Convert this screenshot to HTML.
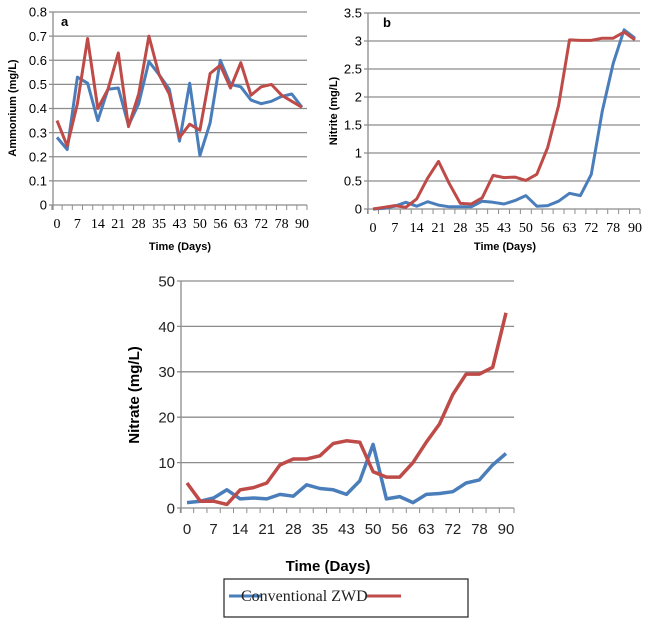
<!DOCTYPE html>
<html><head><meta charset="utf-8"><style>
body{margin:0;background:#fff}
svg{display:block}
</style></head><body>
<svg id="s" width="650" height="624" xmlns="http://www.w3.org/2000/svg" font-family="Liberation Sans, sans-serif"></svg>
<script>
const s=document.getElementById('s');let h='';
const labs=[0,7,14,21,28,35,43,50,56,63,72,78,90];
function chart(o){
 const {L,R,T,B,max,step,x0,x1,fs,red,blue,tick,dec}=o;
 const n=Math.round(max/step);
 for(let i=0;i<=n;i++){const y=B-(B-T)*i/n;
  h+=`<line x1="${L-4}" y1="${y}" x2="${R}" y2="${y}" stroke="#8c8c8c" stroke-width="1.3"/>`;
  let v=(i*step);v=dec?(+v.toFixed(dec)).toString():v;
  h+=`<text x="${L-6}" y="${y+fs*0.36}" font-size="${fs}" text-anchor="end" fill="${o.tc||'#000'}">${v}</text>`;}
 h+=`<line x1="${L}" y1="${T}" x2="${L}" y2="${B+5}" stroke="#8c8c8c" stroke-width="1.3"/>`;
 const st=(x1-x0)/24;
 for(let i=0;i<=24;i++){const x=x0+st*(i-0.5);h+=`<line x1="${x}" y1="${B}" x2="${x}" y2="${B+5}" stroke="#8c8c8c"/>`}
 h+=`<line x1="${R}" y1="${B}" x2="${R}" y2="${B+5}" stroke="#8c8c8c"/>`;
 const ff=o.serif?'font-family="Liberation Serif, serif"':'';
 labs.forEach((l,i)=>{const x=x0+st*2*i;h+=`<text x="${x}" y="${B+tick}" font-size="${o.xfs||fs}" text-anchor="middle" ${ff} fill="${o.tc||'#000'}">${l}</text>`});
 const pts=a=>a.map((v,i)=>`${(x0+st*i).toFixed(1)},${(B-(B-T)*v/max).toFixed(1)}`).join(' ');
 h+=`<polyline points="${pts(blue)}" fill="none" stroke="#4a7ebb" stroke-width="${o.lw}" stroke-linejoin="round"/>`;
 h+=`<polyline points="${pts(red)}" fill="none" stroke="#be4b48" stroke-width="${o.lw}" stroke-linejoin="round"/>`;
}
chart({L:53,R:307,T:12,B:205,max:0.8,step:0.1,dec:1,x0:57,x1:302,fs:13,xfs:14,serif:1,tick:23,lw:3,
red:[0.35,0.245,0.42,0.69,0.40,0.48,0.63,0.325,0.46,0.70,0.54,0.46,0.28,0.335,0.31,0.545,0.58,0.485,0.59,0.455,0.49,0.50,0.455,0.43,0.405],
blue:[0.28,0.23,0.53,0.505,0.35,0.48,0.485,0.33,0.42,0.595,0.54,0.48,0.265,0.505,0.205,0.34,0.60,0.50,0.49,0.435,0.42,0.43,0.45,0.46,0.405]});
chart({L:368,R:640,T:13,B:209,max:3.5,step:0.5,dec:1,x0:373,x1:635,fs:13,xfs:14,serif:1,tick:23,lw:3,
red:[0,0.03,0.06,0.03,0.18,0.55,0.85,0.45,0.1,0.09,0.2,0.6,0.56,0.57,0.51,0.62,1.1,1.85,3.02,3.01,3.01,3.05,3.05,3.16,3.02],
blue:[0,0.01,0.05,0.12,0.05,0.13,0.07,0.04,0.04,0.04,0.14,0.12,0.09,0.15,0.24,0.05,0.06,0.14,0.28,0.24,0.62,1.75,2.6,3.2,3.05]});
chart({L:181,R:514,T:281,B:508,max:50,step:10,x0:187,x1:506,fs:15,tick:26,lw:3.5,tc:'#222',
red:[5.5,1.5,1.5,0.8,4,4.5,5.5,9.5,10.8,10.8,11.5,14.2,14.8,14.5,8,6.8,6.8,10,14.5,18.5,25,29.5,29.5,31,43],
blue:[1.2,1.5,2.2,4,2,2.2,2,3,2.6,5.1,4.3,4,3,6,14,2,2.5,1.2,3,3.2,3.6,5.5,6.2,9.5,12]});
h+=`<text x="61" y="26" font-size="13" font-weight="bold">a</text>`;
h+=`<text x="383" y="27" font-size="13" font-weight="bold">b</text>`;
h+=`<text transform="translate(16,108) rotate(-90)" font-size="11" font-weight="bold" text-anchor="middle">Ammonium (mg/L)</text>`;
h+=`<text transform="translate(337,111) rotate(-90)" font-size="11" font-weight="bold" text-anchor="middle">Nitrite (mg/L)</text>`;
h+=`<text x="180" y="250" font-size="11" font-weight="bold" text-anchor="middle">Time (Days)</text>`;
h+=`<text x="505" y="250" font-size="11" font-weight="bold" text-anchor="middle">Time (Days)</text>`;
h+=`<text transform="translate(139,395) rotate(-90)" font-size="15" font-weight="bold" text-anchor="middle">Nitrate (mg/L)</text>`;
h+=`<text x="328" y="571" font-size="15" font-weight="bold" text-anchor="middle">Time (Days)</text>`;
h+=`<rect x="224" y="579" width="244" height="38" fill="none" stroke="#222" stroke-width="1.2"/>`;
h+=`<line x1="229" y1="596" x2="262" y2="596" stroke="#4a7ebb" stroke-width="3"/>`;
h+=`<line x1="366" y1="596" x2="401" y2="596" stroke="#be4b48" stroke-width="3"/>`;
h+=`<text x="241" y="601" font-size="16" font-family="Liberation Serif, serif" fill="#222">Conventional ZWD</text>`;
s.innerHTML=h;
</script>
</body></html>
